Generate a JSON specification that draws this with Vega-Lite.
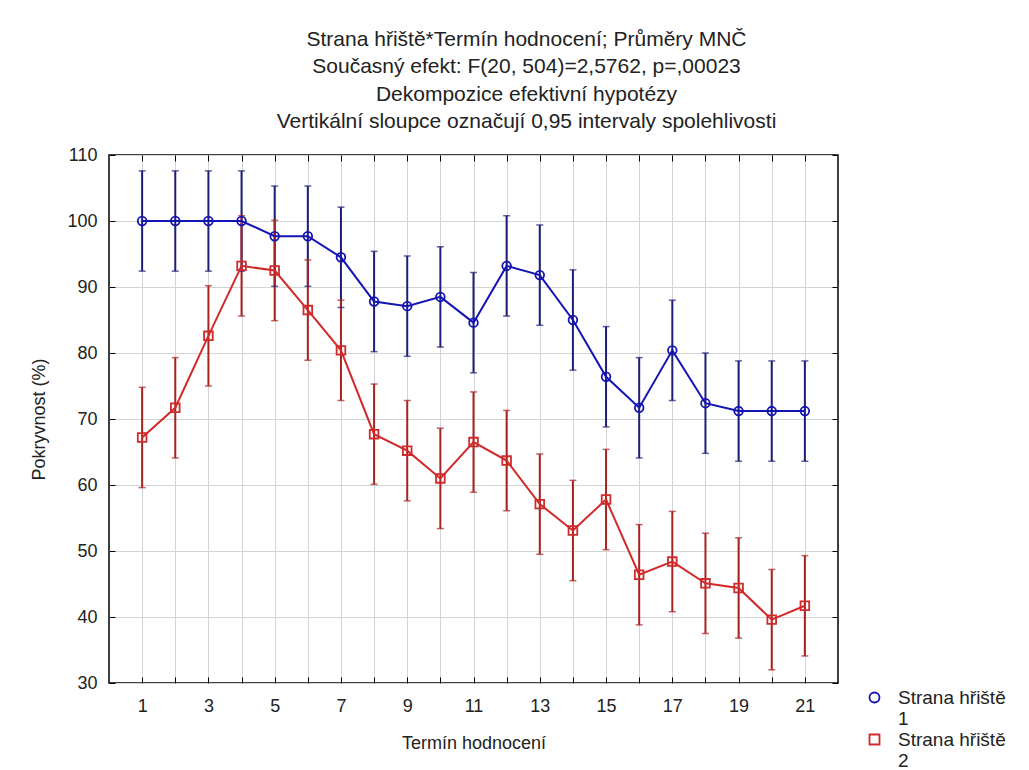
{
  "$schema": "https://vega.github.io/schema/vega-lite/v6.json",
  "width": 729,
  "height": 528,
  "autosize": "none",
  "padding": {"left": 109, "top": 155, "right": 191, "bottom": 87},
  "background": "white",
  "config": {
    "view": {"stroke": "black", "strokeWidth": 1.5},
    "font": "Liberation Sans",
    "axis": {"gridColor": "#d4d4d4", "gridWidth": 1, "domain": false, "labelFont": "Liberation Sans", "labelFontSize": 18, "labelColor": "#222", "titleFont": "Liberation Sans", "titleFontSize": 18, "titleFontWeight": "normal", "titleColor": "#222", "tickColor": "black", "tickWidth": 1}
  },
  "title": {
    "text": ["Strana hřiště*Termín hodnocení; Průměry MNČ", "Současný efekt: F(20, 504)=2,5762, p=,00023", "Dekompozice efektivní hypotézy", "Vertikální sloupce označují 0,95 intervaly spolehlivosti"],
    "font": "Liberation Sans",
    "fontSize": 21,
    "fontWeight": "normal",
    "color": "#222",
    "lineHeight": 27.5,
    "anchor": "middle",
    "dx": 53,
    "dy": 8,
    "offset": 22
  },
  "data": {"values": [
    {"t": 1, "s": "1", "m": 100, "lo": 92.4, "hi": 107.6},
    {"t": 2, "s": "1", "m": 100, "lo": 92.4, "hi": 107.6},
    {"t": 3, "s": "1", "m": 100, "lo": 92.4, "hi": 107.6},
    {"t": 4, "s": "1", "m": 100, "lo": 92.4, "hi": 107.6},
    {"t": 5, "s": "1", "m": 97.7, "lo": 90.1, "hi": 105.3},
    {"t": 6, "s": "1", "m": 97.7, "lo": 90.1, "hi": 105.3},
    {"t": 7, "s": "1", "m": 94.5, "lo": 86.9, "hi": 102.1},
    {"t": 8, "s": "1", "m": 87.8, "lo": 80.2, "hi": 95.4},
    {"t": 9, "s": "1", "m": 87.1, "lo": 79.5, "hi": 94.7},
    {"t": 10, "s": "1", "m": 88.5, "lo": 80.9, "hi": 96.1},
    {"t": 11, "s": "1", "m": 84.6, "lo": 77.0, "hi": 92.2},
    {"t": 12, "s": "1", "m": 93.2, "lo": 85.6, "hi": 100.8},
    {"t": 13, "s": "1", "m": 91.8, "lo": 84.2, "hi": 99.4},
    {"t": 14, "s": "1", "m": 85.0, "lo": 77.4, "hi": 92.6},
    {"t": 15, "s": "1", "m": 76.4, "lo": 68.8, "hi": 84.0},
    {"t": 16, "s": "1", "m": 71.7, "lo": 64.1, "hi": 79.3},
    {"t": 17, "s": "1", "m": 80.4, "lo": 72.8, "hi": 88.0},
    {"t": 18, "s": "1", "m": 72.4, "lo": 64.8, "hi": 80.0},
    {"t": 19, "s": "1", "m": 71.2, "lo": 63.6, "hi": 78.8},
    {"t": 20, "s": "1", "m": 71.2, "lo": 63.6, "hi": 78.8},
    {"t": 21, "s": "1", "m": 71.2, "lo": 63.6, "hi": 78.8},
    {"t": 1, "s": "2", "m": 67.2, "lo": 59.6, "hi": 74.8},
    {"t": 2, "s": "2", "m": 71.7, "lo": 64.1, "hi": 79.3},
    {"t": 3, "s": "2", "m": 82.6, "lo": 75.0, "hi": 90.2},
    {"t": 4, "s": "2", "m": 93.2, "lo": 85.6, "hi": 100.8},
    {"t": 5, "s": "2", "m": 92.5, "lo": 84.9, "hi": 100.1},
    {"t": 6, "s": "2", "m": 86.5, "lo": 78.9, "hi": 94.1},
    {"t": 7, "s": "2", "m": 80.4, "lo": 72.8, "hi": 88.0},
    {"t": 8, "s": "2", "m": 67.7, "lo": 60.1, "hi": 75.3},
    {"t": 9, "s": "2", "m": 65.2, "lo": 57.6, "hi": 72.8},
    {"t": 10, "s": "2", "m": 61.0, "lo": 53.4, "hi": 68.6},
    {"t": 11, "s": "2", "m": 66.5, "lo": 58.9, "hi": 74.1},
    {"t": 12, "s": "2", "m": 63.7, "lo": 56.1, "hi": 71.3},
    {"t": 13, "s": "2", "m": 57.1, "lo": 49.5, "hi": 64.7},
    {"t": 14, "s": "2", "m": 53.1, "lo": 45.5, "hi": 60.7},
    {"t": 15, "s": "2", "m": 57.8, "lo": 50.2, "hi": 65.4},
    {"t": 16, "s": "2", "m": 46.4, "lo": 38.8, "hi": 54.0},
    {"t": 17, "s": "2", "m": 48.4, "lo": 40.8, "hi": 56.0},
    {"t": 18, "s": "2", "m": 45.1, "lo": 37.5, "hi": 52.7},
    {"t": 19, "s": "2", "m": 44.4, "lo": 36.8, "hi": 52.0},
    {"t": 20, "s": "2", "m": 39.6, "lo": 32.0, "hi": 47.2},
    {"t": 21, "s": "2", "m": 41.7, "lo": 34.1, "hi": 49.3}
  ]},
  "layer": [
    {
      "mark": {"type": "rule", "strokeWidth": 2},
      "encoding": {
        "x": {"field": "t", "type": "quantitative", "scale": {"domain": [0, 22], "nice": false}, "axis": {"orient": "bottom", "values": [1,2,3,4,5,6,7,8,9,10,11,12,13,14,15,16,17,18,19,20,21], "labelExpr": "datum.value % 2 == 1 ? datum.label : ''", "tickSize": -6, "labelPadding": 20, "title": "Termín hodnocení", "titlePadding": 19}},
        "xOffset": {"condition": {"test": "datum.s == '2'", "value": 5}, "value": 0},
        "y": {"field": "lo", "type": "quantitative", "scale": {"domain": [30, 110], "nice": false, "zero": false}, "axis": {"orient": "left", "values": [30,40,50,60,70,80,90,100,110], "tickSize": -6, "labelPadding": 18, "title": "Pokryvnost (%)", "titlePadding": 18}},
        "y2": {"field": "hi"},
        "stroke": {"field": "s", "type": "nominal", "scale": {"range": ["#1e1e78", "#a82222"]}, "legend": null}
      }
    },
    {
      "mark": {"type": "tick", "orient": "horizontal", "size": 7, "thickness": 1.5},
      "encoding": {
        "x": {"field": "t", "type": "quantitative", "axis": {"orient": "top", "values": [1,2,3,4,5,6,7,8,9,10,11,12,13,14,15,16,17,18,19,20,21], "labels": false, "grid": false, "tickSize": -6, "title": null}},
        "xOffset": {"condition": {"test": "datum.s == '2'", "value": 5}, "value": 0},
        "y": {"field": "hi", "type": "quantitative", "axis": {"orient": "right", "values": [30,40,50,60,70,80,90,100,110], "labels": false, "grid": false, "tickSize": -6, "title": null}},
        "fill": {"field": "s", "type": "nominal", "scale": {"range": ["#1e1e78", "#a82222"]}, "legend": null}
      }
    },
    {
      "mark": {"type": "tick", "orient": "horizontal", "size": 7, "thickness": 1.5},
      "encoding": {
        "x": {"field": "t", "type": "quantitative", "axis": null},
        "xOffset": {"condition": {"test": "datum.s == '2'", "value": 5}, "value": 0},
        "y": {"field": "lo", "type": "quantitative", "axis": null},
        "fill": {"field": "s", "type": "nominal", "legend": null}
      }
    },
    {
      "mark": {"type": "line", "strokeWidth": 2},
      "encoding": {
        "x": {"field": "t", "type": "quantitative", "axis": null},
        "xOffset": {"condition": {"test": "datum.s == '2'", "value": 5}, "value": 0},
        "y": {"field": "m", "type": "quantitative", "axis": null},
        "color": {"field": "s", "type": "nominal", "scale": {"domain": ["1", "2"], "range": ["#1414b4", "#d22a2a"]}}
      }
    },
    {
      "mark": {"type": "point", "filled": false, "strokeWidth": 1.8, "opacity": 1, "size": 75},
      "encoding": {
        "x": {"field": "t", "type": "quantitative", "axis": null},
        "xOffset": {"condition": {"test": "datum.s == '2'", "value": 5}, "value": 0},
        "y": {"field": "m", "type": "quantitative", "axis": null},
        "color": {"field": "s", "type": "nominal", "legend": {"orient": "none", "legendX": 756, "legendY": 533, "padding": 0, "title": null, "labelFont": "Liberation Sans", "labelFontSize": 19, "labelColor": "#222", "labelExpr": "['Strana hřiště', datum.label]", "symbolSize": 100, "symbolStrokeWidth": 1.8, "rowPadding": 1, "labelLimit": 200, "labelOffset": 14}},
        "shape": {"field": "s", "type": "nominal", "scale": {"domain": ["1", "2"], "range": ["circle", "square"]}, "legend": {"orient": "none", "legendX": 756, "legendY": 533, "padding": 0, "title": null, "labelFont": "Liberation Sans", "labelFontSize": 19, "labelColor": "#222", "labelExpr": "['Strana hřiště', datum.label]", "symbolSize": 100, "symbolStrokeWidth": 1.8, "rowPadding": 1, "labelLimit": 200, "labelOffset": 14}}
      }
    }
  ]
}
